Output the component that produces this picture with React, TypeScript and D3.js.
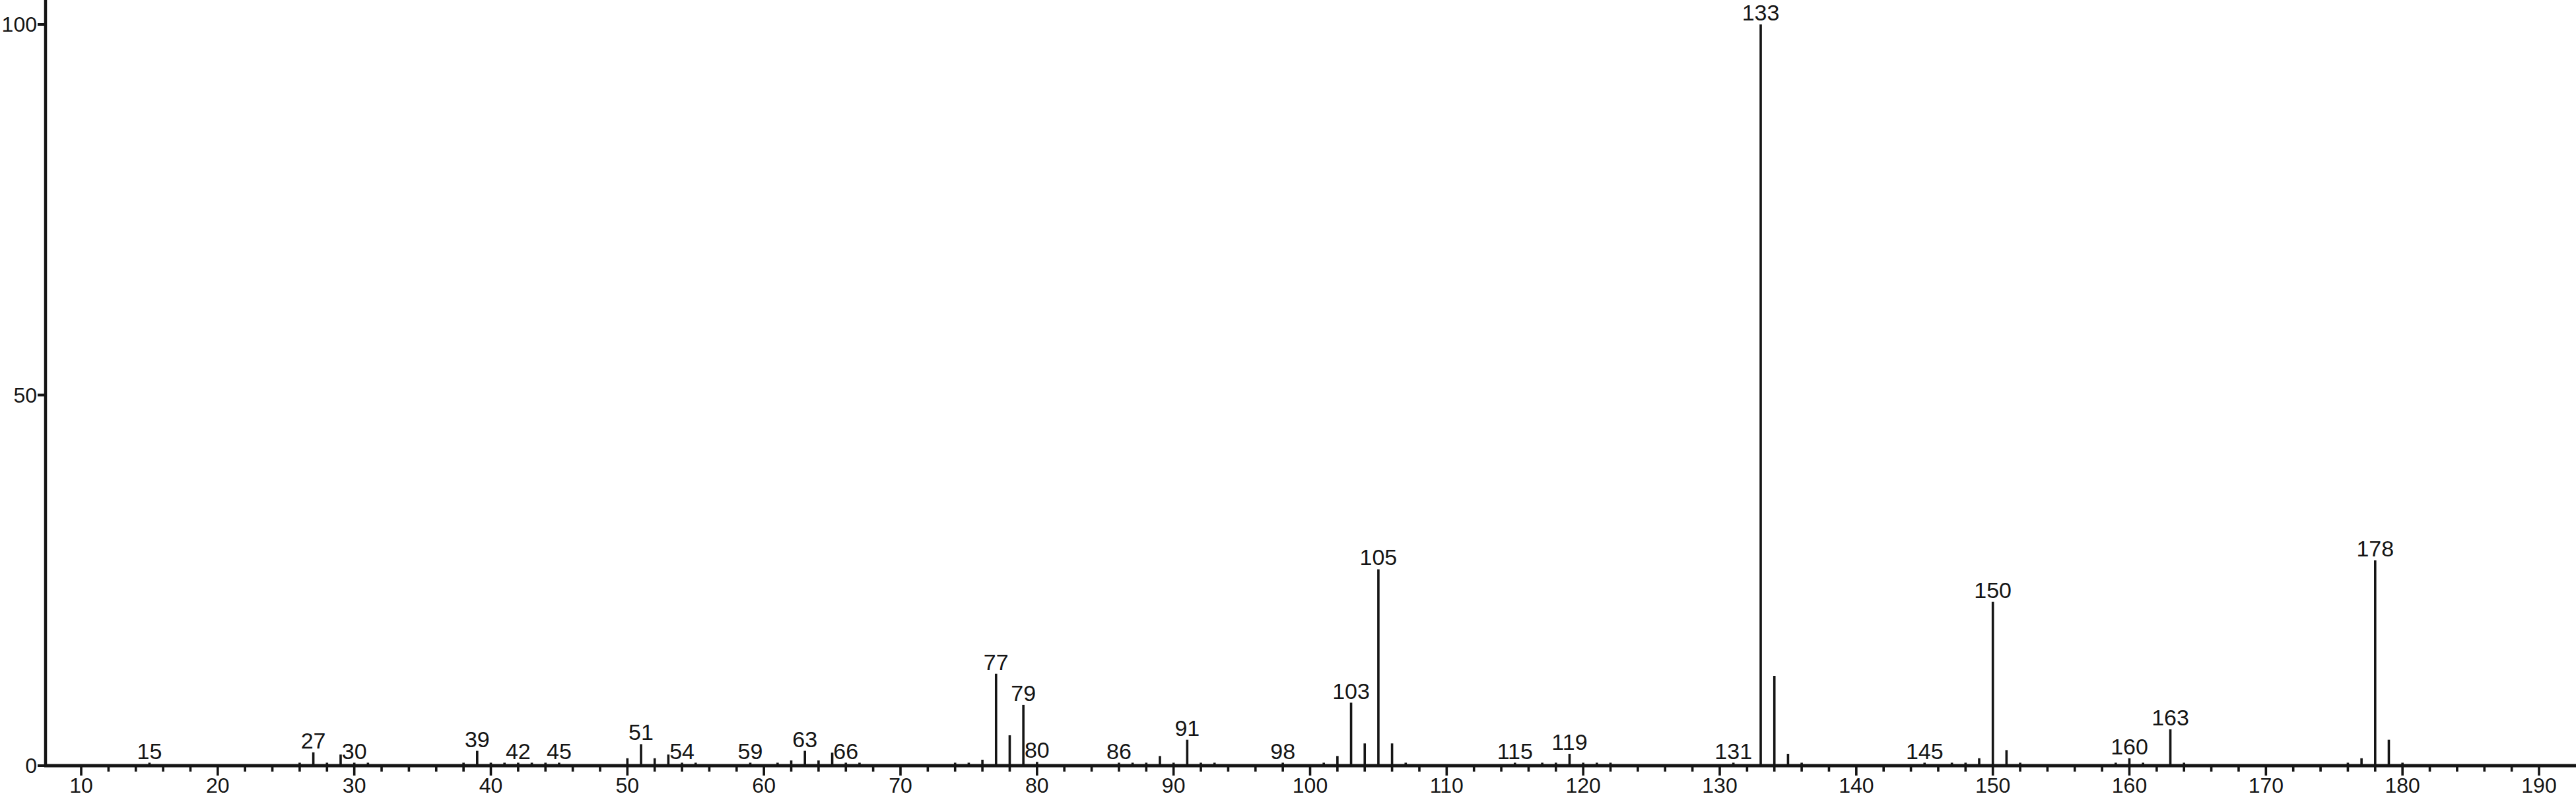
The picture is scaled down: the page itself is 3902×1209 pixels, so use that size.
import React from "react";
import * as d3 from "d3";

// m/z values and relative intensities (%)
const mzValues = [
  15, 26, 27, 28, 29, 30, 31, 38, 39, 40, 41, 42, 43, 44, 45,
  50, 51, 52, 53, 54, 55, 59, 61, 62, 63, 64, 65, 66, 67,
  74, 75, 76, 77, 78, 79, 80, 86, 87, 88, 89, 90, 91, 92, 93,
  98, 101, 102, 103, 104, 105, 106, 107, 115, 117, 118, 119, 120, 121, 122,
  131, 133, 134, 135, 136, 145, 147, 148, 149, 150, 151, 152,
  159, 160, 161, 163, 164, 176, 177, 178, 179, 180,
];
const intensities = [
  0.4, 0.4, 1.8, 0.4, 1.5, 0.4, 0.4, 0.4, 2.0, 0.4, 0.4, 0.4, 0.4, 0.4, 0.4,
  1.0, 2.9, 1.0, 1.5, 0.4, 0.4, 0.4, 0.4, 0.7, 2.0, 0.7, 1.75, 0.4, 0.4,
  0.4, 0.4, 0.8, 12.4, 4.1, 8.2, 0.5, 0.4, 0.4, 0.4, 1.3, 0.4, 3.5, 0.4, 0.4,
  0.4, 0.4, 1.3, 8.5, 3.0, 26.5, 3.0, 0.4, 0.4, 0.4, 0.4, 1.6, 0.4, 0.4, 0.4,
  0.4, 100, 12.1, 1.6, 0.4, 0.4, 0.4, 0.4, 1.0, 22.1, 2.1, 0.4,
  0.4, 1.0, 0.4, 4.9, 0.4, 0.4, 1.0, 27.7, 3.5, 0.4,
];
const labeledPeaks = [
  15, 27, 30, 39, 42, 45, 51, 54, 59, 63, 66, 77, 79, 80, 86, 91, 98,
  103, 105, 115, 119, 131, 133, 145, 150, 160, 163, 178,
];
const xTickLabels = [10, 20, 30, 40, 50, 60, 70, 80, 90, 100, 110, 120, 130, 140, 150, 160, 170, 180, 190];
const xMinorTicks = d3.range(12, 190, 2).filter((v) => v % 10 !== 0);
const yTickLabels = [0, 50, 100];

const W = 3902;
const H = 1209;
const BASE_Y = 1160;
const AXIS_X = 69;
const INK = "#151515";
const FONT = "'Liberation Sans', Arial, Helvetica, sans-serif";

export default function App() {
  const x = d3.scaleLinear().domain([10, 190]).range([123, 3846]);
  const y = d3.scaleLinear().domain([0, 100]).range([BASE_Y, 37]);

  const peaks = mzValues.map((m, i) => ({ m, v: intensities[i] }));
  const labelSet = new Set(labeledPeaks);

  return (
    <svg
      width={W}
      height={H}
      viewBox={`0 0 ${W} ${H}`}
      style={{ position: "absolute", left: 0, top: 0, background: "#fff" }}
    >
      <rect x={0} y={0} width={W} height={H} fill="#fff" />
      {/* peaks */}
      {peaks.map((p) => (
        <line
          key={"p" + p.m}
          x1={x(p.m)}
          x2={x(p.m)}
          y1={BASE_Y}
          y2={y(p.v)}
          stroke={INK}
          strokeWidth={3.6}
        />
      ))}
      {/* x axis */}
      <line x1={AXIS_X - 2} x2={W} y1={BASE_Y} y2={BASE_Y} stroke={INK} strokeWidth={5} />
      {xMinorTicks.map((t) => (
        <line key={"mt" + t} x1={x(t)} x2={x(t)} y1={BASE_Y} y2={BASE_Y + 9} stroke={INK} strokeWidth={3.6} />
      ))}
      {xTickLabels.map((t) => (
        <g key={"xt" + t}>
          <line x1={x(t)} x2={x(t)} y1={BASE_Y} y2={BASE_Y + 15} stroke={INK} strokeWidth={3.6} />
          <text
            x={x(t)}
            y={1201}
            textAnchor="middle"
            fontFamily={FONT}
            fontSize={32}
            fill={INK}
          >
            {t}
          </text>
        </g>
      ))}
      {/* y axis */}
      <line x1={AXIS_X} x2={AXIS_X} y1={0} y2={BASE_Y + 2} stroke={INK} strokeWidth={4.5} />
      {yTickLabels.map((t) => (
        <g key={"yt" + t}>
          <line x1={AXIS_X - 12} x2={AXIS_X} y1={y(t)} y2={y(t)} stroke={INK} strokeWidth={4} />
          <text
            x={AXIS_X - 13}
            y={y(t) + 11}
            textAnchor="end"
            fontFamily={FONT}
            fontSize={32}
            fill={INK}
          >
            {t}
          </text>
        </g>
      ))}
      {/* peak labels */}
      {peaks
        .filter((p) => labelSet.has(p.m))
        .map((p) => (
          <text
            key={"l" + p.m}
            x={x(p.m)}
            y={y(p.v) - 6}
            textAnchor="middle"
            fontFamily={FONT}
            fontSize={34}
            fill={INK}
          >
            {p.m}
          </text>
        ))}
    </svg>
  );
}
